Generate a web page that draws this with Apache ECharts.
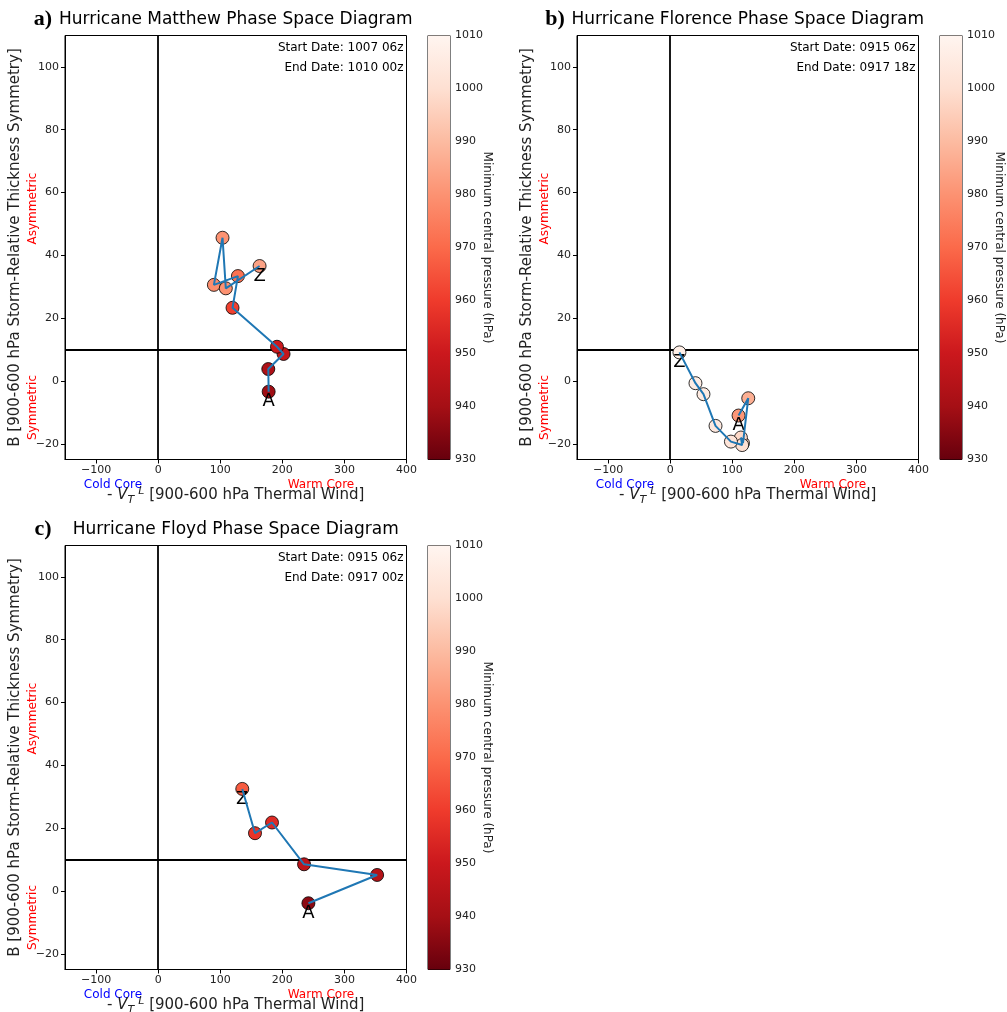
<!DOCTYPE html>
<html><head><meta charset="utf-8">
<script src="https://cdn.jsdelivr.net/npm/echarts@6/dist/echarts.min.js"></script>
<style>html,body{margin:0;padding:0;background:#fff}#c{width:1007px;height:1012px}</style>
</head><body><div id="c"></div>
<script>
// ---- data ----
const xTicks = [-100, 0, 100, 200, 300, 400];
const yTicks = [-20, 0, 20, 40, 60, 80, 100];
const cbarMin = 930, cbarMax = 1010;

const matthewX = [178, 177.4, 202, 191.4, 119.8, 128.5, 89.8, 103.7, 109, 163.4];
const matthewY = [-3.4, 3.8, 8.6, 10.9, 23.3, 33.4, 30.6, 45.6, 29.5, 36.6];
const matthewP = [939, 942, 948, 950, 961, 972, 979, 980, 980, 984];

const florenceX = [110.2, 125.8, 117.3, 114, 116, 97.9, 73.1, 53.7, 40.8, 15];
const florenceY = [-11, -5.5, -19.8, -18, -20.4, -19.3, -14.3, -4.2, -0.7, 9.1];
const florenceP = [981, 987, 996, 998, 1000, 1002, 1004, 1005, 1006, 1007];

const floydX = [242, 352.7, 235, 183.4, 156, 135.5];
const floydY = [-3.9, 5.1, 8.5, 21.8, 18.4, 32.5];
const floydP = [936, 944, 946, 955, 958, 967];

const titles = ['Hurricane Matthew Phase Space Diagram', 'Hurricane Florence Phase Space Diagram', 'Hurricane Floyd Phase Space Diagram'];
const letters = ['a)', 'b)', 'c)'];
const startDates = ['Start Date: 1007 06z', 'Start Date: 0915 06z', 'Start Date: 0915 06z'];
const endDates = ['End Date: 1010 00z', 'End Date: 0917 18z', 'End Date: 0917 00z'];
const cmap = ['#67000d', '#a50f15', '#cb181d', '#ef3b2c', '#fb6a4a', '#fc9272', '#fcbba1', '#fee0d2', '#fff5f0'];

const tracks = [[matthewX, matthewY, matthewP], [florenceX, florenceY, florenceP], [floydX, floydY, floydP]];

// ---- layout ----
const layout = [{left: 65, top: 35.5}, {left: 577, top: 35.5}, {left: 65, top: 545.5}];
const PW = 341.5, PH = 424, CBOFF = 363, CBW = 22;
const FONT = 'DejaVu Sans';

const grid = [], xAxis = [], yAxis = [], series = [], graphic = [], markerIdx = [];
const minus = v => v < 0 ? '\u2212' + Math.abs(v) : String(v);

layout.forEach((L, i) => {
  grid.push({left: L.left, top: L.top, width: PW, height: PH, show: true, borderColor: '#000', borderWidth: 1, containLabel: false});
  grid.push({left: L.left + CBOFF, top: L.top, width: CBW, height: PH, show: true, borderColor: '#000', borderWidth: 1, containLabel: false});
  xAxis.push({gridIndex: 2 * i, type: 'value', min: -150, max: 400,
    axisLine: {show: true, onZero: false, lineStyle: {color: '#000', width: 1}},
    axisTick: {show: true, customValues: xTicks, length: 4, lineStyle: {color: '#000'}},
    axisLabel: {customValues: xTicks, color: '#222', fontSize: 11, fontFamily: FONT, margin: 5, formatter: minus},
    splitLine: {show: false}});
  yAxis.push({gridIndex: 2 * i, type: 'value', min: -25, max: 110,
    axisLine: {show: true, onZero: false, lineStyle: {color: '#000', width: 1}},
    axisTick: {show: true, customValues: yTicks, length: 4, lineStyle: {color: '#000'}},
    axisLabel: {customValues: yTicks, color: '#222', fontSize: 11, fontFamily: FONT, margin: 6, formatter: minus},
    splitLine: {show: false}});
  xAxis.push({gridIndex: 2 * i + 1, type: 'value', min: 0, max: 1, show: false});
  yAxis.push({gridIndex: 2 * i + 1, type: 'value', min: cbarMin, max: cbarMax, interval: 10, position: 'right',
    axisLine: {show: true, lineStyle: {color: '#000', width: 1}},
    axisTick: {show: true, length: 4, lineStyle: {color: '#000'}},
    axisLabel: {color: '#222', fontSize: 11, fontFamily: FONT, margin: 5, formatter: v => String(v)},
    splitLine: {show: false}});

  const [xs, ys, ps] = tracks[i];
  const last = xs.length - 1;
  series.push({type: 'line', xAxisIndex: 2 * i, yAxisIndex: 2 * i, z: 3, silent: true,
    data: xs.map((x, k) => [x, ys[k]]), symbol: 'none',
    lineStyle: {color: '#1f77b4', width: 2},
    markLine: {silent: true, z: 1, symbol: ['none', 'none'], label: {show: false},
      lineStyle: {color: '#000', width: 1.8, type: 'solid'}, emphasis: {disabled: true},
      data: [{xAxis: 0}, {yAxis: 10}]}});
  markerIdx.push(series.length);
  series.push({type: 'scatter', xAxisIndex: 2 * i, yAxisIndex: 2 * i, z: 2, silent: true,
    symbolSize: 13,
    itemStyle: {borderColor: 'rgba(0,0,0,0.8)', borderWidth: 1, opacity: 1},
    label: {show: false, position: 'inside', offset: [0, 10], fontSize: 18, color: '#000', fontFamily: FONT},
    data: xs.map((x, k) => {
      const item = {value: [x, ys[k], ps[k]]};
      if (k === 0) item.label = {show: true, formatter: 'A'};
      if (k === last) item.label = {show: true, formatter: 'Z'};
      return item;
    })});
  series.push({type: 'custom', xAxisIndex: 2 * i + 1, yAxisIndex: 2 * i + 1, silent: true,
    data: [[0, cbarMin, 1, cbarMax]],
    renderItem: (params, api) => {
      const p0 = api.coord([api.value(0), api.value(1)]);
      const p1 = api.coord([api.value(2), api.value(3)]);
      return {type: 'rect', shape: {x: p0[0], y: p1[1], width: p1[0] - p0[0], height: p0[1] - p1[1]},
        style: {fill: new echarts.graphic.LinearGradient(0, 1, 0, 0, cmap.map((c, k) => ({offset: k / (cmap.length - 1), color: c})))}};
    }});

  const dx = L.left - 65, top = L.top;
  const cx = L.left + PW / 2, cy = top + PH / 2;
  graphic.push({type: 'text', x: 43 + dx, y: top - 16, style: {text: letters[i], font: 'bold 22px "Liberation Serif"', fill: '#000', align: 'center', verticalAlign: 'middle'}});
  graphic.push({type: 'text', x: cx, y: top - 16, style: {text: titles[i], font: '17px "DejaVu Sans"', fill: '#000', align: 'center', verticalAlign: 'middle'}});
  graphic.push({type: 'text', x: L.left + PW - 3, y: top + 12, style: {text: startDates[i], font: '12px "DejaVu Sans"', fill: '#000', align: 'right', verticalAlign: 'middle'}});
  graphic.push({type: 'text', x: L.left + PW - 3, y: top + 32, style: {text: endDates[i], font: '12px "DejaVu Sans"', fill: '#000', align: 'right', verticalAlign: 'middle'}});
  graphic.push({type: 'text', x: 113 + dx, y: top + PH + 25, style: {text: 'Cold Core', font: '12px "DejaVu Sans"', fill: '#0000ff', align: 'center', verticalAlign: 'middle'}});
  graphic.push({type: 'text', x: 321 + dx, y: top + PH + 25, style: {text: 'Warm Core', font: '12px "DejaVu Sans"', fill: '#ff0000', align: 'center', verticalAlign: 'middle'}});
  graphic.push({type: 'text', x: cx, y: top + PH + 36, style: {
    text: '- {v|V}{sub|T}{sup|L} [900-600 hPa Thermal Wind]',
    font: '15px "DejaVu Sans"', fill: '#222', align: 'center', verticalAlign: 'middle', lineHeight: 20,
    rich: {
      v: {fontFamily: FONT, fontSize: 15, fontStyle: 'italic', fill: '#222', lineHeight: 20, verticalAlign: 'middle'},
      sub: {fontFamily: FONT, fontSize: 11, fontStyle: 'italic', fill: '#222', lineHeight: 14, verticalAlign: 'bottom'},
      sup: {fontFamily: FONT, fontSize: 11, fontStyle: 'italic', fill: '#222', lineHeight: 14, verticalAlign: 'top', padding: [0, 0, 0, 4]}
    }}});
  graphic.push({type: 'text', x: 15 + dx, y: cy, rotation: Math.PI / 2, style: {text: 'B [900-600 hPa Storm-Relative Thickness Symmetry]', font: '15px "DejaVu Sans"', fill: '#222', align: 'center', verticalAlign: 'middle'}});
  graphic.push({type: 'text', x: 33 + dx, y: top + 173, rotation: Math.PI / 2, style: {text: 'Asymmetric', font: '12px "DejaVu Sans"', fill: '#ff0000', align: 'center', verticalAlign: 'middle'}});
  graphic.push({type: 'text', x: 33 + dx, y: top + 372, rotation: Math.PI / 2, style: {text: 'Symmetric', font: '12px "DejaVu Sans"', fill: '#ff0000', align: 'center', verticalAlign: 'middle'}});
  graphic.push({type: 'text', x: L.left + CBOFF + 59, y: cy, rotation: -Math.PI / 2, style: {text: 'Minimum central pressure (hPa)', font: '12px "DejaVu Sans"', fill: '#222', align: 'center', verticalAlign: 'middle'}});
});

const chart = echarts.init(document.getElementById('c'), null, {renderer: 'canvas'});
chart.setOption({
  animation: false,
  backgroundColor: '#fff',
  grid, xAxis, yAxis, series, graphic,
  visualMap: [{type: 'continuous', show: false, min: cbarMin, max: cbarMax, dimension: 2, seriesIndex: markerIdx, inRange: {color: cmap}}]
});
</script></body></html>
